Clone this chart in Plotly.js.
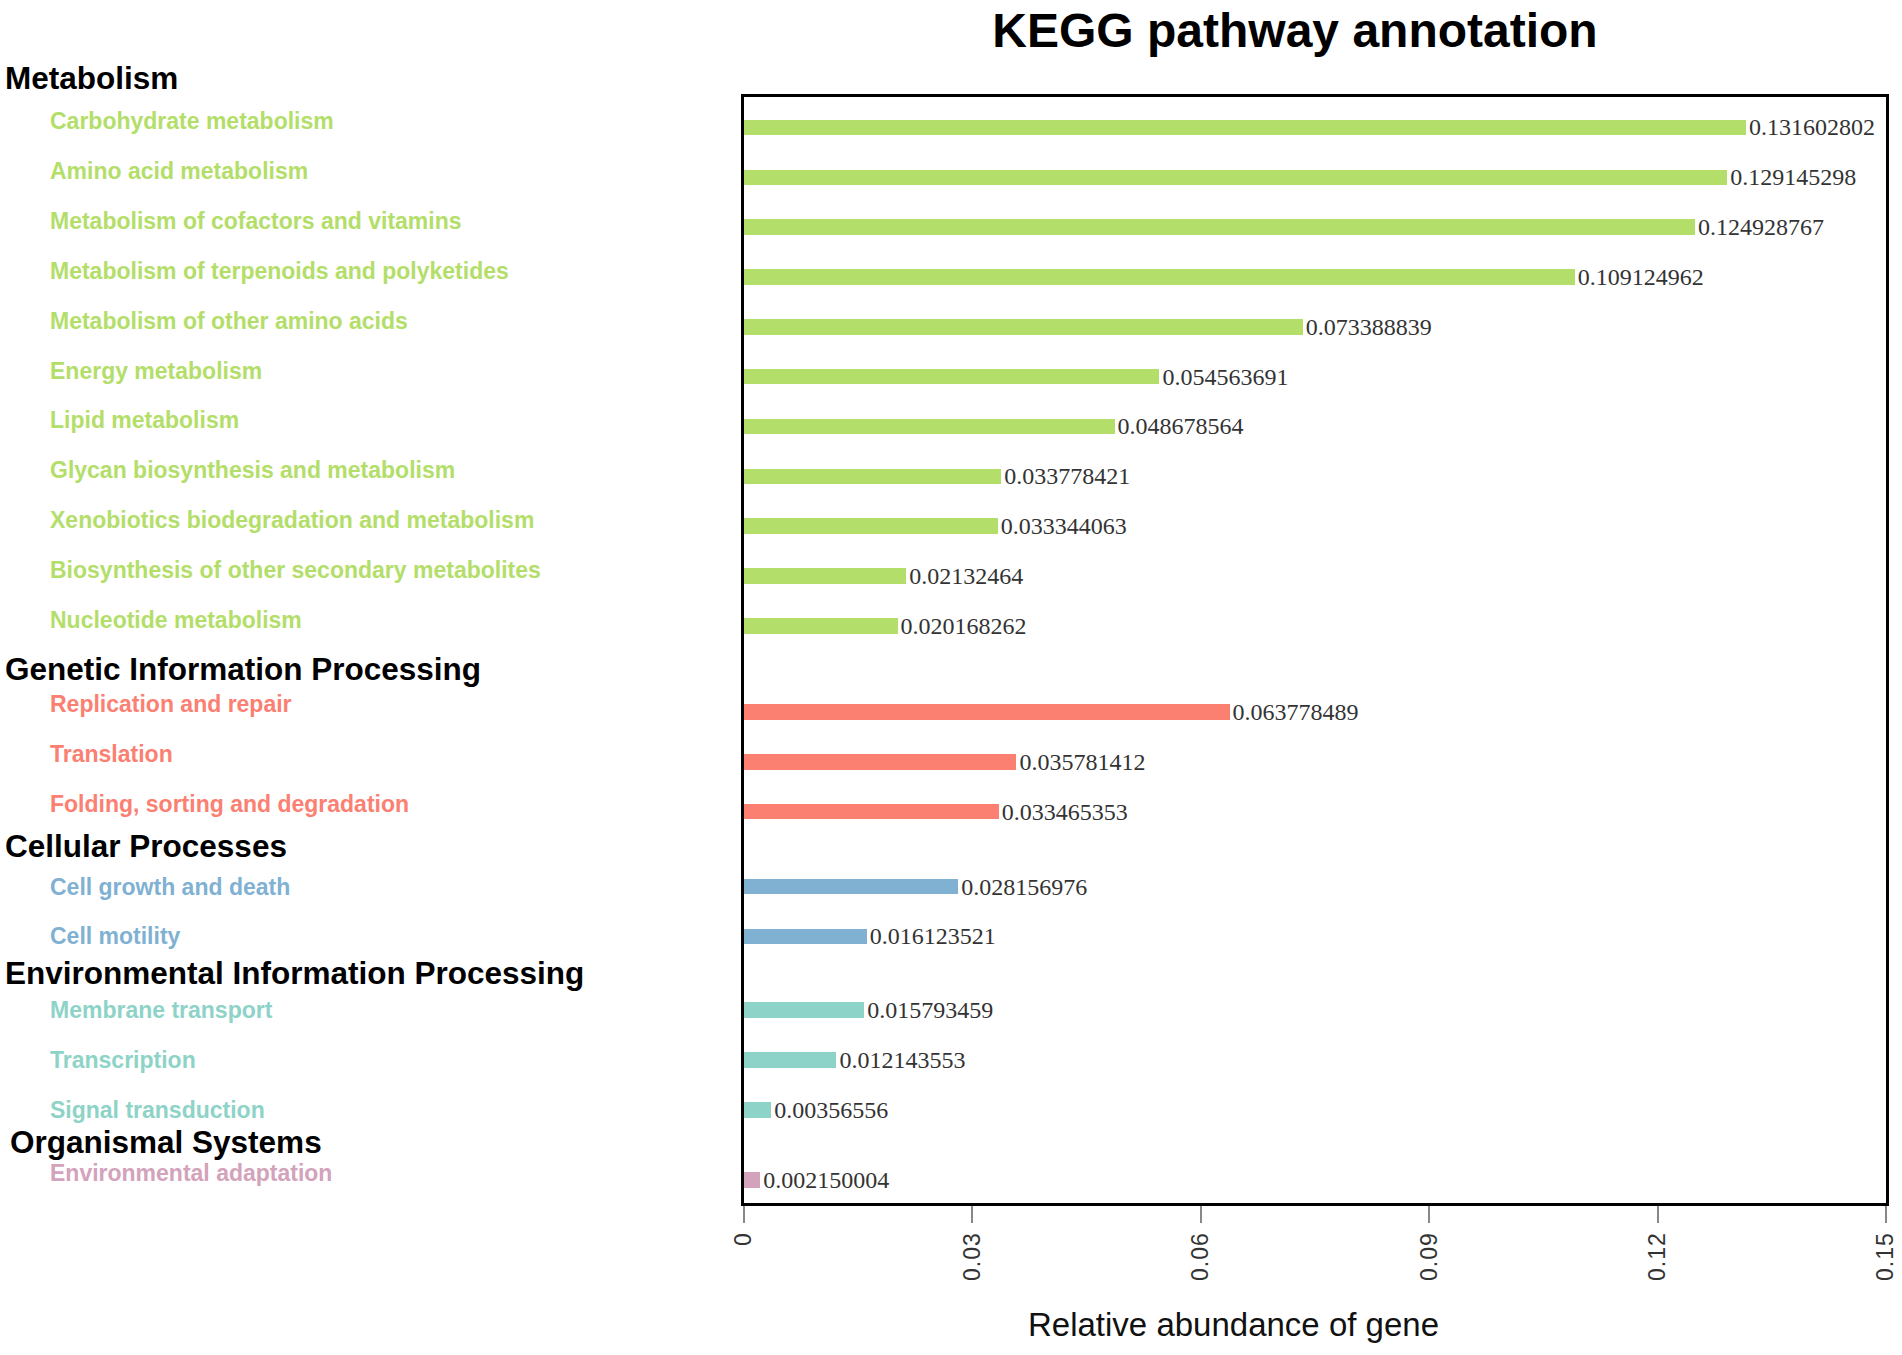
<!DOCTYPE html>
<html>
<head>
<meta charset="utf-8">
<script src="https://cdn.plot.ly/plotly-3.0.1.min.js"></script>
<style>
  html, body { margin: 0; padding: 0; background: #fff; }
  #chart { width: 1902px; height: 1355px; }
  .xtick text { letter-spacing: 1px; }
</style>
</head>
<body>
<div id="chart"></div>
<script>
// ---------------- data ----------------
const groupNames = [
  "Metabolism",
  "Genetic Information Processing",
  "Cellular Processes",
  "Environmental Information Processing",
  "Organismal Systems"
];
const categories = [
  "Carbohydrate metabolism",
  "Amino acid metabolism",
  "Metabolism of cofactors and vitamins",
  "Metabolism of terpenoids and polyketides",
  "Metabolism of other amino acids",
  "Energy metabolism",
  "Lipid metabolism",
  "Glycan biosynthesis and metabolism",
  "Xenobiotics biodegradation and metabolism",
  "Biosynthesis of other secondary metabolites",
  "Nucleotide metabolism",
  "Replication and repair",
  "Translation",
  "Folding, sorting and degradation",
  "Cell growth and death",
  "Cell motility",
  "Membrane transport",
  "Transcription",
  "Signal transduction",
  "Environmental adaptation"
];
const categoryGroup = [
  "Metabolism","Metabolism","Metabolism","Metabolism","Metabolism","Metabolism",
  "Metabolism","Metabolism","Metabolism","Metabolism","Metabolism",
  "Genetic Information Processing","Genetic Information Processing","Genetic Information Processing",
  "Cellular Processes","Cellular Processes",
  "Environmental Information Processing","Environmental Information Processing","Environmental Information Processing",
  "Organismal Systems"
];
const values = [
  0.131602802, 0.129145298, 0.124928767, 0.109124962, 0.073388839,
  0.054563691, 0.048678564, 0.033778421, 0.033344063, 0.02132464,
  0.020168262, 0.063778489, 0.035781412, 0.033465353, 0.028156976,
  0.016123521, 0.015793459, 0.012143553, 0.00356556, 0.002150004
];
const xTickValues = [0, 0.03, 0.06, 0.09, 0.12, 0.15];
const xTickLabels = ["0", "0.03", "0.06", "0.09", "0.12", "0.15"];
const chartTitle = "KEGG pathway annotation";
const xAxisTitle = "Relative abundance of gene";

// ---------------- style ----------------
const groupColors = ["#b3de69", "#fb8072", "#80b1d3", "#8dd3c7", "#d3a2bb"];
const GROUP_GAPS = [0, 0.73, 0.5, 0.48, 0.41];   // extra space (in bar slots) before each group
const LABEL_SHIFT = [6, 8, 0, 0, 7];             // vertical nudge of item labels per group (px)
const Y_RANGE = [21.58, -0.61];                  // reversed: first category at top
const LABEL_FONT = "Liberation Sans, Arial, sans-serif";

// slot position of each category on the (linear) y axis: running index + group gaps
const groupIndexOf = categoryGroup.map(g => groupNames.indexOf(g));
const cumGap = GROUP_GAPS.map((g, i) => GROUP_GAPS.slice(0, i + 1).reduce((a, b) => a + b, 0));
const slotPos = categories.map((c, i) => i + cumGap[groupIndexOf[i]]);

// ---------------- traces ----------------
const traces = groupNames.map((g, gi) => {
  const idx = categories.map((c, i) => i).filter(i => categoryGroup[i] === g);
  return {
    type: "bar",
    orientation: "h",
    name: g,
    x: idx.map(i => values[i]),
    y: idx.map(i => slotPos[i]),
    customdata: idx.map(i => categories[i]),
    width: 0.31,
    marker: { color: groupColors[gi], line: { width: 0 } },
    text: idx.map(i => String(values[i])),
    textposition: "outside",
    cliponaxis: false,
    constraintext: "none",
    outsidetextfont: { family: "Liberation Serif, Times New Roman, serif", size: 24, color: "#333" },
    hovertemplate: "%{customdata}: %{x}<extra></extra>",
    showlegend: false
  };
});

// ---------------- annotations (left labels) ----------------
const toPaperY = p => (p - Y_RANGE[0]) / (Y_RANGE[1] - Y_RANGE[0]);
const annotations = [];
categories.forEach((c, i) => {
  annotations.push({
    xref: "paper", yref: "y", x: -0.6095, y: slotPos[i], yshift: LABEL_SHIFT[groupIndexOf[i]],
    xanchor: "left", yanchor: "middle", showarrow: false,
    text: c,
    font: { family: LABEL_FONT, size: 23, color: groupColors[groupIndexOf[i]], weight: "bold" }
  });
});
groupNames.forEach((g, gi) => {
  const first = categoryGroup.indexOf(g);
  const pos = gi === 0 ? slotPos[first] - 1 : (slotPos[first] + slotPos[first - 1]) / 2;
  annotations.push({
    xref: "paper", yref: "paper", x: gi === 4 ? -0.6448 : -0.6492, y: toPaperY(pos),
    yshift: (gi === 2 || gi === 4) ? 3 : 0,
    xanchor: "left", yanchor: "middle", showarrow: false,
    text: g,
    font: { family: LABEL_FONT, size: 31.5, color: "#000", weight: "bold" }
  });
});
annotations.push({
  xref: "paper", yref: "paper", x: 0.429, y: -0.110,
  xanchor: "center", yanchor: "middle", showarrow: false,
  text: xAxisTitle,
  font: { family: "Liberation Sans, Arial, sans-serif", size: 33, color: "#111" }
});

const layout = {
  width: 1902,
  height: 1355,
  margin: { l: 744, r: 16, t: 97, b: 152 },
  paper_bgcolor: "#fff",
  plot_bgcolor: "#fff",
  title: {
    text: chartTitle,
    xref: "paper", x: 0.4825, xanchor: "center",
    yref: "container", y: 0.9775, yanchor: "middle",
    font: { family: "Liberation Sans, Arial, sans-serif", size: 48, color: "#000", weight: "bold" }
  },
  xaxis: {
    range: [0, 0.15],
    tickmode: "array",
    tickvals: xTickValues,
    ticktext: xTickLabels,
    tickangle: -90,
    ticks: "outside",
    ticklen: 17,
    tickwidth: 2,
    tickcolor: "#888",
    tickfont: { family: "Liberation Sans, Arial, sans-serif", size: 23, color: "#333" },
    showline: true, linewidth: 3, linecolor: "#000", mirror: true,
    showgrid: false, zeroline: false, fixedrange: true
  },
  yaxis: {
    type: "linear",
    range: Y_RANGE,
    showticklabels: false,
    ticks: "",
    showline: true, linewidth: 3, linecolor: "#000", mirror: true,
    showgrid: false, zeroline: false, fixedrange: true
  },
  bargap: 0,
  annotations: annotations
};

Plotly.newPlot("chart", traces, layout, { displayModeBar: false, staticPlot: true });
</script>
</body>
</html>
